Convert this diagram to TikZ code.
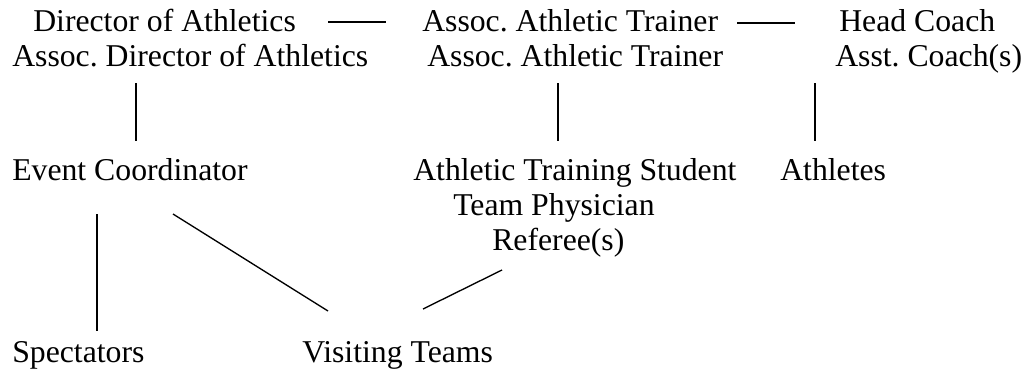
\documentclass[tikz,border=0pt]{standalone}
\usepackage{fontspec}
\setmainfont{Liberation Serif}
\frenchspacing

\tikzset{
  role/.style={anchor=base west, inner sep=0pt, font=\fontsize{23.8}{28}\selectfont},
  link/.style={line width=1pt}
}

\begin{document}
\begin{tikzpicture}[x=0.75pt,y=-0.75pt]
  \useasboundingbox (0,0) rectangle (1028,372);

  % staff
  \node[role] (dirA) at (33,31) {Director of Athletics};
  \node[role] (dirB) at (12,66) {Assoc. Director of Athletics};
  \node[role] (atcA) at (422,31) {Assoc. Athletic Trainer};
  \node[role] (atcB) at (427,66) {Assoc. Athletic Trainer};
  \node[role] (coachA) at (839,31) {Head Coach};
  \node[role] (coachB) at (835,66) {Asst. Coach(s)};

  \node[role] (event) at (12,180) {Event Coordinator};
  \node[role] (student) at (413,180) {Athletic Training Student};
  \node[role] (physician) at (453,215) {Team Physician};
  \node[role] (referee) at (492,250) {Referee(s)};
  \node[role] (athletes) at (780,180) {Athletes};

  \node[role] (spectators) at (12,362) {Spectators};
  \node[role] (visitors) at (302,362) {Visiting Teams};

  % line ends
  \coordinate (dirE) at (328,22);   \coordinate (atcW) at (386,22);
  \coordinate (atcE) at (737,23);   \coordinate (coachW) at (795,23);
  \coordinate (dirS) at (136,83);   \coordinate (eventN) at (136,141);
  \coordinate (atcS) at (558,83);   \coordinate (studentN) at (558,141);
  \coordinate (coachS) at (815,83); \coordinate (athletesN) at (815,141);
  \coordinate (eventS) at (97,214); \coordinate (spectatorsN) at (97,331);
  \coordinate (eventSE) at (173,214); \coordinate (visitorsNW) at (328,311);
  \coordinate (refereeS) at (502,270); \coordinate (visitorsNE) at (423,309);

  \draw[link] (dirE) -- (atcW);
  \draw[link] (atcE) -- (coachW);
  \draw[link] (dirS) -- (eventN);
  \draw[link] (atcS) -- (studentN);
  \draw[link] (coachS) -- (athletesN);
  \draw[link] (eventS) -- (spectatorsN);
  \draw[link] (eventSE) -- (visitorsNW);
  \draw[link] (refereeS) -- (visitorsNE);
\end{tikzpicture}
\end{document}
